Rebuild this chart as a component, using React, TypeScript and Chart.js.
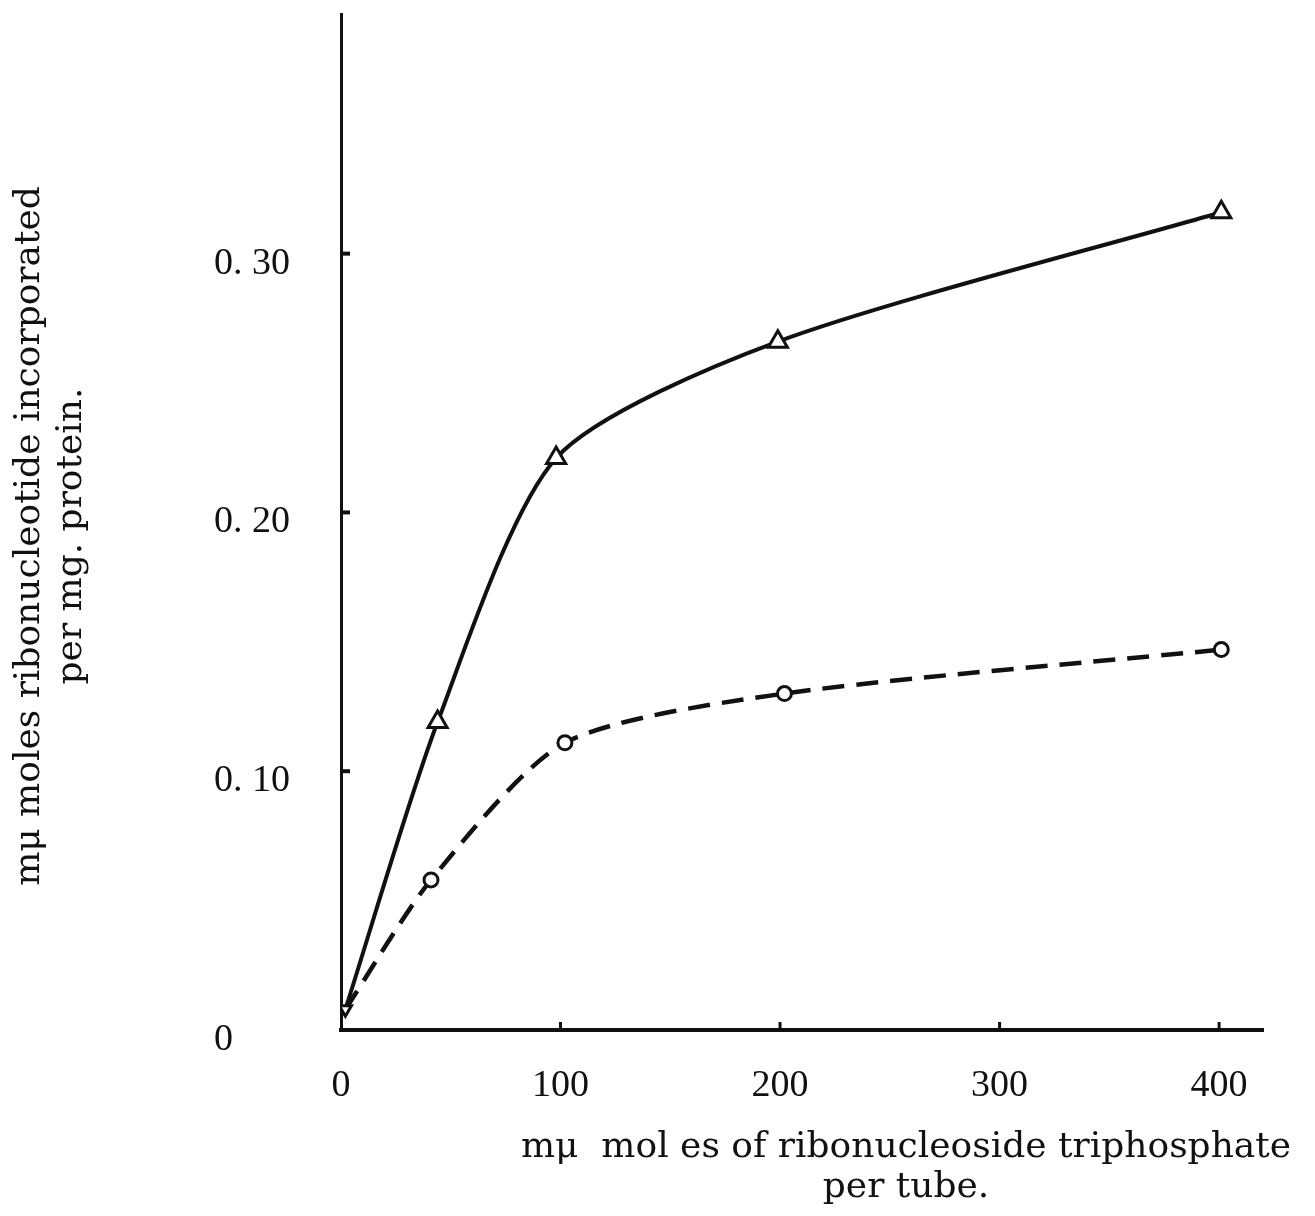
import React, { useEffect, useRef } from "react";
import { Chart, registerables } from "chart.js";

Chart.register(...registerables);

// ---- data ----
const xTickValues = [0, 100, 200, 300, 400];
const yTickValues = [0, 0.1, 0.2, 0.3];

// solid line, triangles (first point = origin marker)
const triX = [2, 44, 98, 199, 401];
const triY = [0.008, 0.119, 0.221, 0.266, 0.316];

// dashed line, circles (first point = origin, no marker)
const circX = [2, 41, 102, 202, 401];
const circY = [0.008, 0.058, 0.111, 0.13, 0.147];

const xTitleLines = ["mμ  mol es of ribonucleoside triphosphate", "per tube."];
const yTitleLines = ["mμ moles ribonucleotide incorporated", "per mg. protein."];

const INK = "#111111";

const axisDecor = {
  id: "axisDecor",
  afterDatasetsDraw(chart: any) {
    const { ctx, chartArea } = chart;
    const xs = chart.scales.x;
    const ys = chart.scales.y;
    ctx.save();
    ctx.strokeStyle = INK;
    ctx.lineCap = "butt";
    ctx.lineWidth = 4;
    yTickValues.forEach((v) => {
      if (v === 0) return;
      const py = ys.getPixelForValue(v);
      ctx.beginPath();
      ctx.moveTo(chartArea.left, py);
      ctx.lineTo(chartArea.left + 9, py);
      ctx.stroke();
    });
    ctx.lineWidth = 3;
    xTickValues.forEach((v) => {
      if (v === 0) return;
      const px = xs.getPixelForValue(v);
      ctx.beginPath();
      ctx.moveTo(px, chartArea.bottom);
      ctx.lineTo(px, chartArea.bottom - 8);
      ctx.stroke();
    });
    ctx.restore();
  },
  afterDraw(chart: any) {
    const { ctx, chartArea } = chart;
    ctx.save();
    ctx.fillStyle = INK;
    ctx.font = '36px "DejaVu Serif"';
    ctx.textAlign = "center";
    ctx.textBaseline = "middle";
    const cx = chartArea.left + 565;
    ctx.fillText(xTitleLines[0], cx, chartArea.bottom + 118);
    ctx.fillText(xTitleLines[1], cx, chartArea.bottom + 158);
    const cy = chartArea.top + 522;
    const offsets = [30, 72];
    yTitleLines.forEach((line, i) => {
      ctx.save();
      ctx.translate(offsets[i], cy);
      ctx.rotate(-Math.PI / 2);
      ctx.fillText(line, 0, 0);
      ctx.restore();
    });
    ctx.restore();
  },
};

export default function App() {
  const canvasRef = useRef<HTMLCanvasElement | null>(null);

  useEffect(() => {
    if (!canvasRef.current) return;
    const chart = new Chart(canvasRef.current, {
      type: "line",
      data: {
        datasets: [
          {
            label: "triangles",
            data: triX.map((x, i) => ({ x, y: triY[i] })),
            borderColor: INK,
            borderWidth: 4,
            pointStyle: "triangle",
            pointRadius: [7, 11, 11, 11, 11],
            pointRotation: [180, 0, 0, 0, 0],
            pointBackgroundColor: "#ffffff",
            pointBorderColor: INK,
            pointBorderWidth: 3,
            tension: 0.25,
            fill: false,
          },
          {
            label: "circles",
            data: circX.map((x, i) => ({ x, y: circY[i] })),
            borderColor: INK,
            borderWidth: 4.5,
            borderDash: [22, 12],
            pointStyle: "circle",
            pointRadius: [0, 7, 7, 7, 7],
            pointBackgroundColor: "#ffffff",
            pointBorderColor: INK,
            pointBorderWidth: 3,
            tension: 0.25,
            fill: false,
          },
        ],
      },
      options: {
        animation: false,
        responsive: false,
        devicePixelRatio: 1,
        layout: { padding: { left: 214, top: 0, right: 52, bottom: 0 } },
        plugins: {
          legend: { display: false },
          tooltip: { enabled: false },
        },
        scales: {
          x: {
            type: "linear",
            min: 0,
            max: 420,
            afterBuildTicks: (s: any) => {
              s.ticks = xTickValues.map((v) => ({ value: v }));
            },
            afterFit: (s: any) => {
              s.height = 186;
              s.paddingLeft = 0;
              s.paddingRight = 0;
            },
            grid: { display: false },
            border: { display: true, color: INK, width: 4 },
            ticks: {
              color: INK,
              font: { family: "Liberation Serif", size: 38 },
              padding: 25,
              maxRotation: 0,
              autoSkip: false,
              callback: (v: any) => String(v),
            },
          },
          y: {
            type: "linear",
            min: 0,
            max: 0.3926,
            afterBuildTicks: (s: any) => {
              s.ticks = yTickValues.map((v) => ({ value: v }));
            },
            afterFit: (s: any) => {
              s.width = 127;
              s.paddingTop = 0;
              s.paddingBottom = 0;
            },
            grid: { display: false },
            border: { display: true, color: INK, width: 3 },
            ticks: {
              color: INK,
              font: { family: "Liberation Serif", size: 38 },
              crossAlign: "far",
              labelOffset: 10,
              autoSkip: false,
              callback: (v: any) =>
                Number(v) === 0 ? "0" : Number(v).toFixed(2).replace(".", ". "),
            },
          },
        },
      },
      plugins: [axisDecor],
    } as any);
    return () => chart.destroy();
  }, []);

  return (
    <div
      style={{
        position: "absolute",
        left: 0,
        top: 0,
        width: 1315,
        height: 1216,
        background: "#ffffff",
      }}
    >
      <canvas ref={canvasRef} width={1315} height={1216} />
    </div>
  );
}
